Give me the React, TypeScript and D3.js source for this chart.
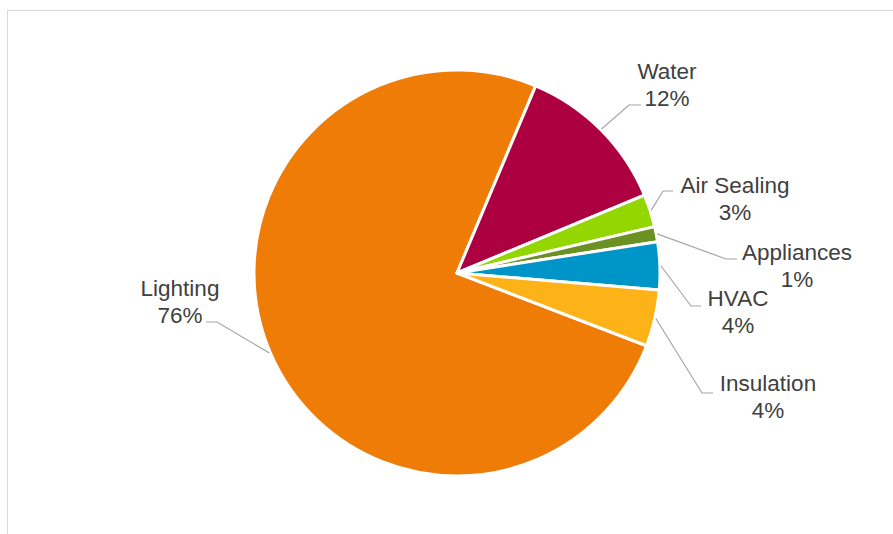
import React from "react";
import * as d3 from "d3";

const categories = ["Lighting", "Water", "Air Sealing", "Appliances", "HVAC", "Insulation"];
const values = [75.5, 12.4, 2.6, 1.2, 3.8, 4.5];
const percentLabels = ["76%", "12%", "3%", "1%", "4%", "4%"];
const colors = ["#F07C08", "#AC0040", "#94D600", "#6A9121", "#0095C8", "#FDB218"];

// label layout: text center x, first-line baseline y, elbow point, horizontal end x
const labelLayout = [
  { tx: 180, ty: 296, ex: 217, ey: 322, hx: 206 },
  { tx: 667, ty: 79, ex: 629, ey: 105, hx: 641 },
  { tx: 735, ty: 193, ex: 663, ey: 191, hx: 673 },
  { tx: 797, ty: 260, ex: 726, ey: 259, hx: 737 },
  { tx: 738, ty: 306, ex: 691, ey: 306, hx: 701 },
  { tx: 768, ty: 391, ex: 702, ey: 393, hx: 713 },
];

const W = 893;
const H = 534;
const cx = 457;
const cy = 273;
const R = 203;
const startDeg = 111;

export default function App() {
  const start = (startDeg * Math.PI) / 180;
  const pie = d3
    .pie<number>()
    .sort(null)
    .value((d) => d)
    .startAngle(start)
    .endAngle(start + 2 * Math.PI);
  const arcs = pie(values);
  const arc = d3.arc<d3.PieArcDatum<number>>().innerRadius(0).outerRadius(R);

  return (
    <svg
      width={W}
      height={H}
      style={{ position: "absolute", left: 0, top: 0, background: "#fff" }}
    >
      <rect x={7.5} y={10.5} width={1000} height={1000} fill="#fff" stroke="#D9D9D9" strokeWidth={1} />
      <g transform={`translate(${cx},${cy})`}>
        {arcs.map((a, i) => (
          <path key={categories[i]} d={arc(a) || ""} fill={colors[i]} stroke="#fff" strokeWidth={3} strokeLinejoin="round" />
        ))}
      </g>
      {arcs.map((a, i) => {
        const mid = (a.startAngle + a.endAngle) / 2;
        const sx = cx + (R + 1) * Math.sin(mid);
        const sy = cy - (R + 1) * Math.cos(mid);
        const L = labelLayout[i];
        return (
          <polyline
            key={"l" + i}
            points={`${sx},${sy} ${L.ex},${L.ey} ${L.hx},${L.ey}`}
            fill="none"
            stroke="#A6A6A6"
            strokeWidth={1.2}
          />
        );
      })}
      {categories.map((c, i) => {
        const L = labelLayout[i];
        return (
          <text
            key={"t" + i}
            textAnchor="middle"
            fontFamily="'Liberation Sans', Arial, sans-serif"
            fontSize={22.5}
            fill="#404040"
          >
            <tspan x={L.tx} y={L.ty}>{c}</tspan>
            <tspan x={L.tx} y={L.ty + 27}>{percentLabels[i]}</tspan>
          </text>
        );
      })}
    </svg>
  );
}
